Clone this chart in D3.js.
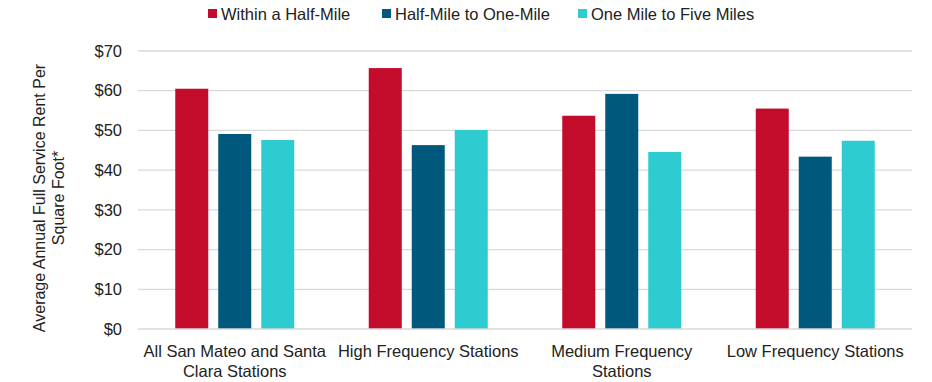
<!DOCTYPE html>
<html>
<head>
<meta charset="utf-8">
<script src="https://cdn.jsdelivr.net/npm/d3@7"></script>
<style>
  html, body { margin: 0; padding: 0; background: #fff; }
  svg { display: block; }
  text { font-family: "Liberation Sans", Arial, sans-serif; fill: #222; }
</style>
</head>
<body>
<svg id="chart" width="932" height="382"></svg>
<script>
const categories = [
  "All San Mateo and Santa Clara Stations",
  "High Frequency Stations",
  "Medium Frequency Stations",
  "Low Frequency Stations"
];
const seriesNames = ["Within a Half-Mile", "Half-Mile to One-Mile", "One Mile to Five Miles"];
const withinHalfMile = [60.5, 65.7, 53.7, 55.5];
const halfToOneMile = [49.1, 46.3, 59.2, 43.4];
const oneToFiveMiles = [47.6, 50.1, 44.6, 47.4];
const yTicks = [0, 10, 20, 30, 40, 50, 60, 70];
const colors = ["#c30b2c", "#00587c", "#2ecbd0"];

const seriesValues = [withinHalfMile, halfToOneMile, oneToFiveMiles];
const data = categories.map((c, i) => ({
  category: c,
  values: seriesNames.map((s, j) => ({ series: s, value: seriesValues[j][i] }))
}));

const svg = d3.select("#chart");
const plotLeft = 138, plotRight = 912, plotTop = 51, plotBottom = 329;

const y = d3.scaleLinear().domain([0, 70]).range([plotBottom, plotTop]);
const x0 = d3.scaleBand().domain(categories).range([plotLeft, plotRight]).paddingInner(0).paddingOuter(0);
const gw = x0.bandwidth();
const x1 = d3.scaleBand().domain(seriesNames)
  .range([gw / 2 - 59.5, gw / 2 + 59.5]).paddingInner(10 / 43).paddingOuter(0);

// gridlines
svg.append("g").selectAll("line").data(yTicks.filter(d => d > 0)).join("line")
  .attr("x1", plotLeft).attr("x2", plotRight)
  .attr("y1", d => y(d)).attr("y2", d => y(d))
  .attr("stroke", "#d9d9d9").attr("stroke-width", 1.3);

// y tick labels
const yAxis = d3.axisLeft(y).tickValues(yTicks).tickSize(0).tickPadding(16)
  .tickFormat(d => "$" + d);
const ya = svg.append("g").attr("transform", `translate(${plotLeft},0)`).call(yAxis);
ya.select(".domain").remove();
ya.selectAll("text").style("font-size", "16.5px").style("font-family", '"Liberation Sans", Arial, sans-serif').attr("fill", "#222");

// bars
const groups = svg.append("g").selectAll("g").data(data).join("g")
  .attr("transform", d => `translate(${x0(d.category)},0)`);
groups.selectAll("rect").data(d => d.values).join("rect")
  .attr("x", d => x1(d.series))
  .attr("width", x1.bandwidth())
  .attr("y", d => y(d.value))
  .attr("height", d => y(0) - y(d.value))
  .attr("fill", (d, i) => colors[i]);

// baseline
svg.append("line").attr("x1", plotLeft).attr("x2", plotRight)
  .attr("y1", y(0)).attr("y2", y(0))
  .attr("stroke", "#d9d9d9").attr("stroke-width", 1.5);

// x axis labels (wrapped)
const xAxis = d3.axisBottom(x0).tickSize(0).tickPadding(0);
const xa = svg.append("g").attr("transform", `translate(0,${plotBottom})`).call(xAxis);
xa.select(".domain").remove();
xa.selectAll("text")
  .style("font-size", "16.5px")
  .style("font-family", '"Liberation Sans", Arial, sans-serif')
  .attr("fill", "#222")
  .attr("dy", null)
  .attr("y", 28)
  .each(function(d) {
    const t = d3.select(this);
    const words = d.split(" ");
    t.text(null);
    let line = [];
    let lines = [];
    const tmp = t.append("tspan");
    words.forEach(w => {
      line.push(w);
      tmp.text(line.join(" "));
      if (tmp.node().getComputedTextLength() > 190 && line.length > 1) {
        line.pop();
        lines.push(line.join(" "));
        line = [w];
      }
    });
    lines.push(line.join(" "));
    tmp.remove();
    lines.forEach((l, i) => {
      t.append("tspan").attr("x", 0).attr("y", 28 + i * 19.5).text(l);
    });
  });

// y axis title
const yt = svg.append("text")
  .attr("transform", `translate(45,${(plotTop + plotBottom) / 2 + 8}) rotate(-90)`)
  .attr("text-anchor", "middle")
  .style("font-size", "16px");
yt.append("tspan").attr("x", 0).attr("y", 0).text("Average Annual Full Service Rent Per");
yt.append("tspan").attr("x", 0).attr("y", 19).text("Square Foot*");

// legend
const legendX = [208, 382, 578];
const lg = svg.append("g").selectAll("g").data(seriesNames).join("g")
  .attr("transform", (d, i) => `translate(${legendX[i]},9)`);
lg.append("rect").attr("width", 9).attr("height", 9).attr("fill", (d, i) => colors[i]);
lg.append("text").attr("x", 13).attr("y", 10.5).style("font-size", "16.5px").text(d => d);
</script>
</body>
</html>
